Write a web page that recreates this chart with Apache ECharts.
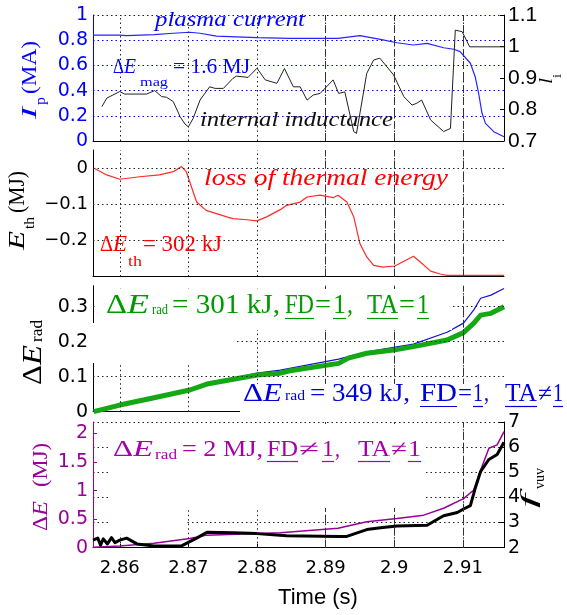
<!DOCTYPE html>
<html><head><meta charset="utf-8">
<script src="https://cdn.jsdelivr.net/npm/echarts@6/dist/echarts.min.js"></script>
<style>html,body{margin:0;padding:0;background:#fff}#c{width:567px;height:615px}</style>
</head><body><div id="c"></div>
<script>
// ---------------- data ----------------
const X_MIN = 2.8561, X_MAX = 2.916;
const xTicks = [2.86, 2.87, 2.88, 2.89, 2.90, 2.91];
const eventTimes = [2.8917, 2.9028, 2.9075];

// panel 1: plasma current (MA)
const ipTime = [2.8561,2.8600,2.8610,2.8650,2.8678,2.8702,2.8717,2.8741,2.8800,2.8848,2.8918,2.8950,2.8980,2.9004,2.9028,2.9048,2.9072,2.9087,2.9096,2.9111,2.9118,2.9123,2.9128,2.9133,2.9145,2.9160];
const ipVal  = [0.841,0.841,0.836,0.845,0.855,0.863,0.855,0.833,0.820,0.815,0.815,0.836,0.807,0.780,0.762,0.775,0.740,0.728,0.709,0.617,0.510,0.379,0.220,0.140,0.074,0.034];
// panel 1: internal inductance
const liTime = [2.8574,2.8581,2.8590,2.8600,2.8607,2.8639,2.8651,2.8661,2.8668,2.8678,2.8688,2.8695,2.8700,2.8707,2.8717,2.8731,2.8739,2.8751,2.8765,2.8770,2.8787,2.8800,2.8812,2.8829,2.8840,2.8853,2.8863,2.8873,2.8882,2.8892,2.8911,2.8919,2.8928,2.8941,2.8945,2.8960,2.8970,2.8979,2.8999,2.9014,2.9026,2.9033,2.9040,2.9053,2.9072,2.9082,2.9089,2.9099,2.9110,2.9160];
const liVal  = [0.809,0.836,0.846,0.857,0.849,0.849,0.860,0.841,0.839,0.825,0.777,0.754,0.745,0.772,0.830,0.872,0.867,0.867,0.899,0.906,0.902,0.931,0.894,0.883,0.930,0.872,0.872,0.830,0.846,0.851,0.894,0.851,0.856,0.730,0.724,0.915,0.957,0.963,0.910,0.841,0.814,0.820,0.830,0.767,0.730,0.740,1.052,1.047,0.999,0.999];
// panel 2: thermal energy (MJ)
const ethTime = [2.8562,2.8581,2.8600,2.8629,2.8658,2.8678,2.8690,2.8697,2.8712,2.8726,2.8756,2.8765,2.8785,2.8800,2.8814,2.8834,2.8843,2.8863,2.8873,2.8892,2.8911,2.8918,2.8931,2.8941,2.8950,2.8960,2.8970,2.8984,2.9001,2.9028,2.9038,2.9053,2.9067,2.9077,2.9160];
const ethVal  = [0.000,-0.019,-0.031,-0.024,-0.019,-0.010,0.004,-0.010,-0.094,-0.117,-0.135,-0.140,-0.143,-0.146,-0.135,-0.115,-0.103,-0.094,-0.080,-0.075,-0.082,-0.075,-0.094,-0.135,-0.209,-0.246,-0.269,-0.274,-0.271,-0.244,-0.260,-0.285,-0.293,-0.297,-0.297];
// panel 3: radiated energy, FD=1 TA=1 (green) and FD=1 TA!=1 (blue)
const radATime = [2.8562,2.8600,2.8650,2.8702,2.8727,2.8800,2.8834,2.8848,2.8919,2.8933,2.8960,2.8999,2.9028,2.9077,2.9101,2.9116,2.9126,2.9141,2.9160];
const radAVal  = [0.000,0.019,0.040,0.062,0.079,0.105,0.110,0.117,0.138,0.153,0.167,0.176,0.186,0.205,0.226,0.253,0.276,0.281,0.300];
const radBTime = [2.8562,2.8600,2.8702,2.8800,2.8834,2.8919,2.8960,2.9028,2.9077,2.9101,2.9116,2.9126,2.9141,2.9160];
const radBVal  = [0.000,0.020,0.066,0.110,0.119,0.150,0.171,0.193,0.227,0.253,0.291,0.324,0.333,0.352];
// panel 4: ΔE (MJ) purple and f_vuv black
const dETime = [2.8562,2.8600,2.8650,2.8702,2.8727,2.8800,2.8834,2.8918,2.8960,2.9004,2.9043,2.9072,2.9101,2.9116,2.9126,2.9138,2.9150,2.9160];
const dEVal  = [0.01,0.03,0.077,0.16,0.22,0.25,0.26,0.34,0.455,0.51,0.57,0.69,0.86,1.01,1.36,1.74,1.80,2.03];
const fTime = [2.8561,2.8568,2.8572,2.8576,2.8582,2.8588,2.8593,2.8600,2.8610,2.8625,2.8650,2.8690,2.8702,2.8712,2.8727,2.8765,2.8800,2.8843,2.8919,2.8931,2.8946,2.8960,2.8980,2.9004,2.9048,2.9063,2.9072,2.9092,2.9101,2.9111,2.9118,2.9126,2.9138,2.9150,2.9160];
const fVal  = [2.30,2.38,2.10,2.35,2.15,2.40,2.20,2.30,2.38,2.15,2.07,2.07,2.24,2.38,2.61,2.59,2.56,2.48,2.45,2.45,2.59,2.72,2.79,2.86,2.89,3.13,3.27,3.40,3.54,3.67,4.36,5.04,5.51,5.71,6.19];

// tick / grid values
const ipTicks = [0, 0.2, 0.4, 0.6, 0.8, 1];
const liTicks = [0.7, 0.8, 0.9, 1, 1.1];
const ethTicks = [0, -0.1, -0.2];
const radTicks = [0, 0.1, 0.2, 0.3];
const radGrid = [0.1, 0.2, 0.3];
const dETicks = [0, 0.5, 1, 1.5, 2];
const fTicks = [2, 3, 4, 5, 6, 7];

// ---------------- helpers ----------------
const zip = (a, b) => a.map((t, i) => [t, b[i]]);
const SERIF = 'Liberation Serif', SANS = 'DejaVu Sans';
const mctx = document.createElement('canvas').getContext('2d');
function pieces(list, color) {
  const out = [];
  list.forEach(p => {
    const fam = p.f || SERIF;
    mctx.font = (p.it ? 'italic ' : '') + p.s + 'px ' + fam;
    const mw = mctx.measureText(p.t).width;
    const sx = p.w ? p.w / mw : 1;
    const b = p.b || 0;
    out.push({type: 'text', x: p.x, y: b - 0.34 * p.s, scaleX: sx, silent: true, z: 120,
      style: {text: p.t, fontSize: p.s, fontFamily: fam, fontStyle: p.it ? 'italic' : 'normal',
               fill: color, align: 'left', verticalAlign: 'middle'}});
    if (p.ul) out.push({type: 'line', silent: true, z: 120,
      shape: {x1: p.x, y1: b + 3.5, x2: p.x + mw * sx, y2: b + 3.5},
      style: {stroke: color, lineWidth: 1.2}});
  });
  return out;
}
function vlabel(ox, oy, list, color) {
  return {type: 'group', x: ox, y: oy, rotation: Math.PI / 2, children: pieces(list, color)};
}
function wbox(x, y, w, h) {
  return {type: 'rect', silent: true, z: 110, shape: {x: x, y: y, width: w, height: h}, style: {fill: '#fff'}};
}
const DOT = [1.5, 3], DASH = [8, 4];
function vLines() {
  return xTicks.map(v => ({xAxis: v, lineStyle: {type: DOT, color: '#222', width: 1}}))
    .concat(eventTimes.map(v => ({xAxis: v, lineStyle: {type: DASH, color: '#333', width: 1}})));
}
function hLines(vals) {
  return vals.map(v => ({yAxis: v, lineStyle: {type: DOT, color: '#222', width: 1}}));
}
function ml(data) {
  return {symbol: ['none', 'none'], silent: true, animation: false, label: {show: false}, data: data};
}

const BLUE = '#0000ff', RED = '#ff0000', GREEN = '#009a00', BLUE2 = '#0000d8', PURPLE = '#990099', PURPLE_T = '#a800a8';

// ---------------- chart ----------------
const chart = echarts.init(document.getElementById('c'), null, {renderer: 'canvas'});
const gridTops = [15, 150, 285.7, 422];
const gridH = [126, 126.5, 126, 125.7];

const option = {
  animation: false,
  backgroundColor: '#fff',
  grid: gridTops.map((t, i) => ({left: 93, right: 63, top: t, height: gridH[i], outerBoundsMode: 'none', containLabel: false})),
  xAxis: [0, 1, 2, 3].map(i => ({
    type: 'value', gridIndex: i, min: X_MIN, max: X_MAX,
    axisLine: {show: true, onZero: false, lineStyle: {color: '#000', width: 1}},
    axisTick: i === 3 ? {show: true, inside: true, length: 4, customValues: xTicks, lineStyle: {color: '#000'}} : {show: false},
    axisLabel: i === 3 ? {show: true, customValues: xTicks, formatter: v => String(+(+v).toFixed(2)),
      fontFamily: SANS, fontSize: 18, color: '#000', margin: 12} : {show: false},
    splitLine: {show: false}
  })),
  yAxis: [
    {type: 'value', gridIndex: 0, position: 'left', min: 0, max: 1, interval: 0.2,
      axisLine: {show: true, onZero: false, lineStyle: {color: BLUE}},
      axisTick: {show: false},
      axisLabel: {fontFamily: SANS, fontSize: 19, color: BLUE, margin: 5},
      splitLine: {show: true, showMinLine: false, lineStyle: {color: BLUE, type: DOT, width: 1}}},
    {type: 'value', gridIndex: 0, position: 'right', min: 0.7, max: 1.1,
      axisLine: {show: true, onZero: false, lineStyle: {color: '#000'}},
      axisTick: {show: true, inside: true, length: 4, customValues: liTicks, lineStyle: {color: '#000'}},
      axisLabel: {customValues: liTicks, fontFamily: 'Liberation Sans', fontSize: 21, color: '#000', margin: 4},
      splitLine: {show: false}},
    {type: 'value', gridIndex: 1, position: 'left', min: -0.3, max: 0.05,
      axisLine: {show: true, onZero: false, lineStyle: {color: '#000'}},
      axisTick: {show: false},
      axisLabel: {customValues: ethTicks, formatter: v => String(+(+v).toFixed(2)).replace('-', '\u2212'),
        fontFamily: SANS, fontSize: 18, color: '#000', margin: 5},
      splitLine: {show: false}},
    {type: 'value', gridIndex: 2, position: 'left', min: 0, max: 0.36,
      axisLine: {show: true, onZero: false, lineStyle: {color: '#000'}},
      axisTick: {show: false},
      axisLabel: {customValues: radTicks, formatter: v => String(+(+v).toFixed(2)),
        fontFamily: SANS, fontSize: 19, color: '#000', margin: 5},
      splitLine: {show: false}},
    {type: 'value', gridIndex: 3, position: 'left', min: 0, max: 2.2,
      axisLine: {show: true, onZero: false, lineStyle: {color: PURPLE}},
      axisTick: {show: true, inside: true, length: 4, customValues: dETicks, lineStyle: {color: PURPLE}},
      axisLabel: {customValues: dETicks, formatter: v => String(+(+v).toFixed(2)),
        fontFamily: SANS, fontSize: 19, color: PURPLE, margin: 5},
      splitLine: {show: false}},
    {type: 'value', gridIndex: 3, position: 'right', min: 2, max: 7, interval: 1,
      axisLine: {show: true, onZero: false, lineStyle: {color: '#000'}},
      axisTick: {show: true, inside: true, length: 5, lineStyle: {color: '#000'}},
      axisLabel: {fontFamily: SANS, fontSize: 19, color: '#000', margin: 4},
      splitLine: {show: true, showMinLine: false, lineStyle: {color: '#222', type: DOT, width: 1}}}
  ],
  series: [
    {name: 'plasma current', type: 'line', xAxisIndex: 0, yAxisIndex: 0, data: zip(ipTime, ipVal),
      showSymbol: false, symbol: 'none', lineStyle: {color: '#2424ff', width: 1.2}, markLine: ml(vLines())},
    {name: 'internal inductance', type: 'line', xAxisIndex: 0, yAxisIndex: 1, data: zip(liTime, liVal),
      showSymbol: false, symbol: 'none', lineStyle: {color: '#222', width: 1}},
    {name: 'thermal energy', type: 'line', xAxisIndex: 1, yAxisIndex: 2, data: zip(ethTime, ethVal),
      showSymbol: false, symbol: 'none', lineStyle: {color: '#ff2a2a', width: 1.2},
      markLine: ml(vLines().concat(hLines(ethTicks)))},
    {name: 'rad 349 kJ', type: 'line', xAxisIndex: 2, yAxisIndex: 3, data: zip(radBTime, radBVal),
      showSymbol: false, symbol: 'none', lineStyle: {color: '#1515c8', width: 1.2},
      markLine: ml(vLines().concat(hLines(radGrid)))},
    {name: 'rad 301 kJ', type: 'line', xAxisIndex: 2, yAxisIndex: 3, data: zip(radATime, radAVal),
      showSymbol: false, symbol: 'none', lineStyle: {color: '#14a814', width: 5, join: 'round'}},
    {name: 'ΔE', type: 'line', xAxisIndex: 3, yAxisIndex: 4, data: zip(dETime, dEVal),
      showSymbol: false, symbol: 'none', lineStyle: {color: PURPLE, width: 1.5}, markLine: ml(vLines())},
    {name: 'f_vuv', type: 'line', xAxisIndex: 3, yAxisIndex: 5, data: zip(fTime, fVal),
      showSymbol: false, symbol: 'none', lineStyle: {color: '#000', width: 3, join: 'round'}}
  ],
  graphic: {elements: [
    // white boxes behind annotations
    wbox(95, 289, 357, 41), wbox(90, 323, 147, 40),
    wbox(240, 384, 327, 29),
    wbox(110, 424, 313, 84), wbox(110, 508, 76, 26),
    // panel 1 annotations
    {type: 'group', children: pieces([{t: 'plasma current', x: 155, w: 150, b: 28, s: 20, it: true}], BLUE)},
    {type: 'group', children: pieces([
      {t: 'Δ', x: 113, w: 11, b: 75, s: 21},
      {t: 'E', x: 124, w: 12, b: 75, s: 21, it: true},
      {t: 'mag', x: 140, w: 28, b: 87, s: 13},
      {t: '= 1.6 MJ', x: 173, w: 77, b: 75, s: 21}], BLUE)},
    {type: 'group', children: pieces([{t: 'internal inductance', x: 200, w: 193, b: 128, s: 21, it: true}], '#111')},
    // panel 2 annotations
    {type: 'group', children: pieces([{t: 'loss of thermal energy', x: 204, w: 244, b: 187, s: 23, it: true}], RED)},
    {type: 'group', children: pieces([
      {t: 'Δ', x: 100, w: 13, b: 253, s: 24},
      {t: 'E', x: 113, w: 14, b: 253, s: 24, it: true},
      {t: 'th', x: 128, w: 14, b: 267, s: 15},
      {t: '= 302 kJ', x: 143, w: 79, b: 253, s: 24}], RED)},
    // panel 3 annotations
    {type: 'group', children: pieces([
      {t: 'Δ', x: 106, w: 21, b: 315, s: 27},
      {t: 'E', x: 127, w: 22, b: 315, s: 27, it: true},
      {t: 'rad', x: 152, w: 16, b: 315, s: 15},
      {t: '= 301 kJ,', x: 172, w: 108, b: 315, s: 27},
      {t: 'FD', x: 285, w: 29, b: 315, s: 27, ul: true},
      {t: '=', x: 315, w: 16, b: 315, s: 27},
      {t: '1', x: 333, w: 13, b: 315, s: 27, ul: true},
      {t: ',', x: 347, w: 6, b: 315, s: 27},
      {t: 'TA', x: 367, w: 31, b: 315, s: 27, ul: true},
      {t: '=', x: 399, w: 16, b: 315, s: 27},
      {t: '1', x: 417, w: 12, b: 315, s: 27, ul: true}], GREEN)},
    {type: 'group', children: pieces([
      {t: 'Δ', x: 243, w: 20, b: 403, s: 25},
      {t: 'E', x: 263, w: 19, b: 403, s: 25, it: true},
      {t: 'rad', x: 285, w: 20, b: 401, s: 15},
      {t: '= 349 kJ,', x: 310, w: 100, b: 403, s: 25},
      {t: 'FD', x: 420, w: 37, b: 403, s: 25, ul: true},
      {t: '=', x: 458, w: 14, b: 403, s: 25},
      {t: '1', x: 473, w: 10, b: 403, s: 25, ul: true},
      {t: ',', x: 484, w: 5, b: 403, s: 25},
      {t: 'TA', x: 505, w: 32, b: 403, s: 25, ul: true},
      {t: '≠', x: 538, w: 14, b: 403, s: 25},
      {t: '1', x: 553, w: 10, b: 403, s: 25, ul: true}], BLUE2)},
    // panel 4 annotation
    {type: 'group', children: pieces([
      {t: 'Δ', x: 113, w: 20, b: 458, s: 23},
      {t: 'E', x: 133, w: 20, b: 458, s: 23, it: true},
      {t: 'rad', x: 155, w: 22, b: 460, s: 15},
      {t: '= 2 MJ,', x: 182, w: 81, b: 458, s: 23},
      {t: 'FD', x: 267, w: 31, b: 458, s: 23, ul: true},
      {t: '≠', x: 299, w: 20, b: 458, s: 23},
      {t: '1', x: 322, w: 12, b: 458, s: 23, ul: true},
      {t: ',', x: 335, w: 5, b: 458, s: 23},
      {t: 'TA', x: 358, w: 32, b: 458, s: 23, ul: true},
      {t: '≠', x: 391, w: 16, b: 458, s: 23},
      {t: '1', x: 408, w: 13, b: 458, s: 23, ul: true}], PURPLE_T)},
    // axis titles (rotated)
    vlabel(38, 119, [
      {t: 'I', x: 0, w: 12, b: 0, s: 22, it: true},
      {t: 'p', x: 14, w: 8, b: 8, s: 14},
      {t: '(MA)', x: 25, w: 53, b: 0, s: 22}], BLUE),
    vlabel(26, 250, [
      {t: 'E', x: 0, w: 19, b: 0, s: 24, it: true},
      {t: 'th', x: 21, w: 12, b: 9, s: 14},
      {t: '(MJ)', x: 37, w: 42, b: 0, s: 24}], '#000'),
    vlabel(43, 385, [
      {t: 'Δ', x: 0, w: 20, b: 0, s: 28},
      {t: 'E', x: 20, w: 20, b: 0, s: 28, it: true},
      {t: 'rad', x: 43, w: 22, b: 0, s: 17}], '#000'),
    vlabel(49, 531, [
      {t: 'Δ', x: 0, w: 15, b: 0, s: 22},
      {t: 'E', x: 15, w: 15, b: 0, s: 22, it: true},
      {t: '(MJ)', x: 44, w: 44, b: 0, s: 22}], PURPLE),
    vlabel(553, 84, [
      {t: 'l', x: 0, w: 6, b: 0, s: 19, it: true},
      {t: 'i', x: 6, w: 4, b: 9, s: 12}], '#000'),
    vlabel(537, 508, [
      {t: 'f', x: 0, w: 14, b: 0, s: 22, it: true},
      {t: 'vuv', x: 19, w: 21, b: 8, s: 14}], '#000'),
    {type: 'text', x: 318, y: 598, silent: true, z: 120,
      style: {text: 'Time (s)', fontSize: 22, fontFamily: 'Liberation Sans', fill: '#000', align: 'center', verticalAlign: 'middle'}}
  ]}
};
chart.setOption(option);
</script>
</body></html>
